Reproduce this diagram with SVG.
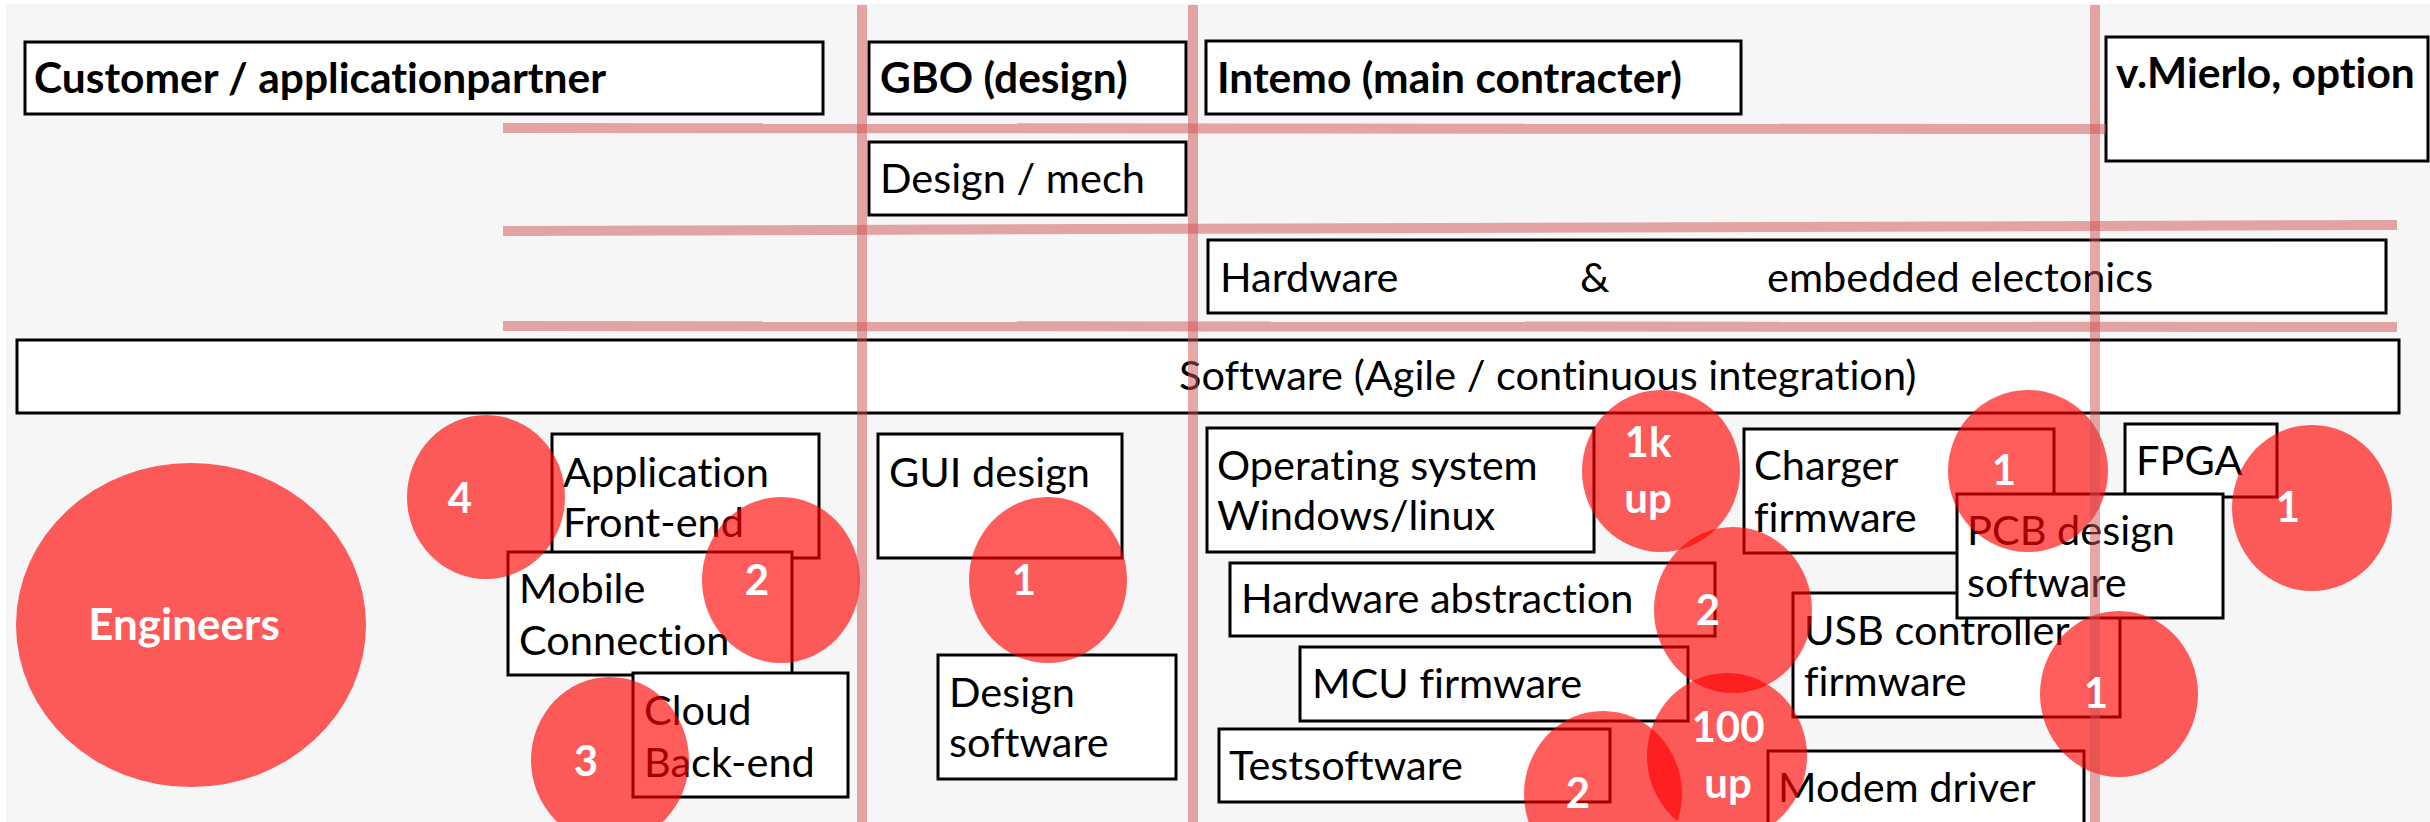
<svg xmlns="http://www.w3.org/2000/svg" width="2430" height="822" viewBox="0 0 2430 822">
<style>
text{font-variant-ligatures:none}
.box{fill:#ffffff;stroke:#000000;stroke-width:3}
.hd{font-family:Lato,"Open Sans","Liberation Sans",sans-serif;font-weight:700;font-size:42.5px;fill:#000}
.tx{font-family:Lato,"Open Sans","Liberation Sans",sans-serif;font-weight:400;font-size:41.5px;fill:#000}
.dot{fill:#ff0000;fill-opacity:0.64}
.num{font-family:Lato,"Open Sans","Liberation Sans",sans-serif;font-weight:700;font-size:42px;fill:#ffffff;text-anchor:middle}
.grid{stroke:#d05050;stroke-opacity:0.5;stroke-width:10;fill:none}
</style>
<rect x="6" y="4" width="2424" height="818" fill="#f6f6f6"/>

<g id="hdr-customer"><rect class="box" x="25" y="42" width="798" height="72"/><text class="hd" x="34" y="93">Customer / applicationpartner</text></g>
<g id="hdr-gbo"><rect class="box" x="869" y="42" width="317" height="72"/><text class="hd" x="880" y="93">GBO (design)</text></g>
<g id="hdr-intemo"><rect class="box" x="1206" y="41" width="535" height="73"/><text class="hd" x="1217" y="93">Intemo (main contracter)</text></g>
<g id="hdr-mierlo"><rect class="box" x="2106" y="37" width="322" height="124"/><text class="hd" x="2116" y="88">v.Mierlo, option</text></g>

<g id="design-mech"><rect class="box" x="869" y="142" width="317" height="73"/><text class="tx" x="880" y="193">Design / mech</text></g>
<g id="hardware"><rect class="box" x="1208" y="240" width="1178" height="73"/><text class="tx" y="292"><tspan x="1220">Hardware</tspan><tspan x="1580">&amp;</tspan><tspan x="1767">embedded electonics</tspan></text></g>
<g id="software"><rect class="box" x="17" y="340" width="2382" height="73"/><text class="tx" x="1179" y="390">Software (Agile / continuous integration)</text></g>

<g id="app-frontend"><rect class="box" x="552" y="434" width="267" height="124"/><text class="tx" x="563" y="487">Application</text><text class="tx" x="563" y="537">Front-end</text></g>
<g id="mobile"><rect class="box" x="508" y="552" width="284" height="123"/><text class="tx" x="519" y="603">Mobile</text><text class="tx" x="519" y="655">Connection</text></g>
<g id="cloud"><rect class="box" x="633" y="673" width="215" height="124"/><text class="tx" x="644" y="725">Cloud</text><text class="tx" x="644" y="777">Back-end</text></g>

<g id="gui-design"><rect class="box" x="878" y="434" width="244" height="124"/><text class="tx" x="889" y="487">GUI design</text></g>
<g id="design-software"><rect class="box" x="938" y="655" width="238" height="124"/><text class="tx" x="949" y="707">Design</text><text class="tx" x="949" y="757">software</text></g>

<g id="os"><rect class="box" x="1207" y="428" width="387" height="124"/><text class="tx" x="1217" y="480">Operating system</text><text class="tx" x="1217" y="530">Windows/linux</text></g>
<g id="hw-abstraction"><rect class="box" x="1230" y="563" width="485" height="73"/><text class="tx" x="1241" y="613">Hardware abstraction</text></g>
<g id="mcu"><rect class="box" x="1300" y="647" width="388" height="74"/><text class="tx" x="1312" y="698">MCU firmware</text></g>
<g id="testsoftware"><rect class="box" x="1219" y="729" width="391" height="73"/><text class="tx" x="1229" y="780">Testsoftware</text></g>
<g id="charger"><rect class="box" x="1744" y="429" width="310" height="124"/><text class="tx" x="1754" y="480">Charger</text><text class="tx" x="1754" y="532">firmware</text></g>
<g id="usb"><rect class="box" x="1793" y="593" width="327" height="124"/><text class="tx" x="1804" y="645">USB controller</text><text class="tx" x="1804" y="696">firmware</text></g>
<g id="modem"><rect class="box" x="1768" y="751" width="316" height="80"/><text class="tx" x="1778" y="802">Modem driver</text></g>
<g id="fpga"><rect class="box" x="2125" y="424" width="152" height="73"/><text class="tx" x="2136" y="475">FPGA</text></g>
<g id="pcb"><rect class="box" x="1957" y="494" width="266" height="124"/><text class="tx" x="1967" y="545">PCB design</text><text class="tx" x="1967" y="597">software</text></g>

<g id="engineers"><ellipse class="dot" cx="191" cy="625" rx="175" ry="162"/></g>
<g id="count-4"><ellipse class="dot" cx="486" cy="497" rx="79" ry="82"/></g>
<g id="count-2-mobile"><ellipse class="dot" cx="781" cy="580" rx="79" ry="83"/></g>
<g id="count-3"><ellipse class="dot" cx="610" cy="760" rx="79" ry="83"/></g>
<g id="count-1-gbo"><ellipse class="dot" cx="1048" cy="580" rx="79" ry="83"/></g>
<g id="count-1k"><ellipse class="dot" cx="1661" cy="471" rx="79" ry="81"/></g>
<g id="count-2-hw"><ellipse class="dot" cx="1733" cy="610" rx="79" ry="83"/></g>
<g id="count-2-test"><ellipse class="dot" cx="1603" cy="794" rx="79" ry="83"/></g>
<g id="count-100"><ellipse class="dot" cx="1727" cy="756" rx="80" ry="83"/></g>
<g id="count-1-charger"><ellipse class="dot" cx="2028" cy="471" rx="80" ry="81"/></g>
<g id="count-1-fpga"><ellipse class="dot" cx="2312" cy="508" rx="80" ry="83"/></g>
<g id="count-1-usb"><ellipse class="dot" cx="2119" cy="694" rx="79" ry="83"/></g>

<g id="connectors">
<line class="grid" x1="862" y1="5" x2="862" y2="822"/>
<line class="grid" x1="1193" y1="5" x2="1193" y2="822"/>
<line class="grid" x1="2095" y1="5" x2="2095" y2="822"/>
<line class="grid" x1="503" y1="128" x2="2106" y2="129"/>
<line class="grid" x1="503" y1="231" x2="2397" y2="225"/>
<line class="grid" x1="503" y1="326" x2="2397" y2="327"/>
</g>

<g id="labels">
<text class="num" x="184" y="640" style="font-size:44px">Engineers</text>
<text class="num" x="460" y="513">4</text>
<text class="num" x="757" y="595">2</text>
<text class="num" x="586" y="776">3</text>
<text class="num" x="1024" y="595">1</text>
<text class="num" x="1648" y="457">1k</text>
<text class="num" x="1648" y="513">up</text>
<text class="num" x="1708" y="625">2</text>
<text class="num" x="1578" y="808">2</text>
<text class="num" x="1728" y="742">100</text>
<text class="num" x="1728" y="798">up</text>
<text class="num" x="2004" y="485">1</text>
<text class="num" x="2288" y="522">1</text>
<text class="num" x="2096" y="708">1</text>
</g>
</svg>
